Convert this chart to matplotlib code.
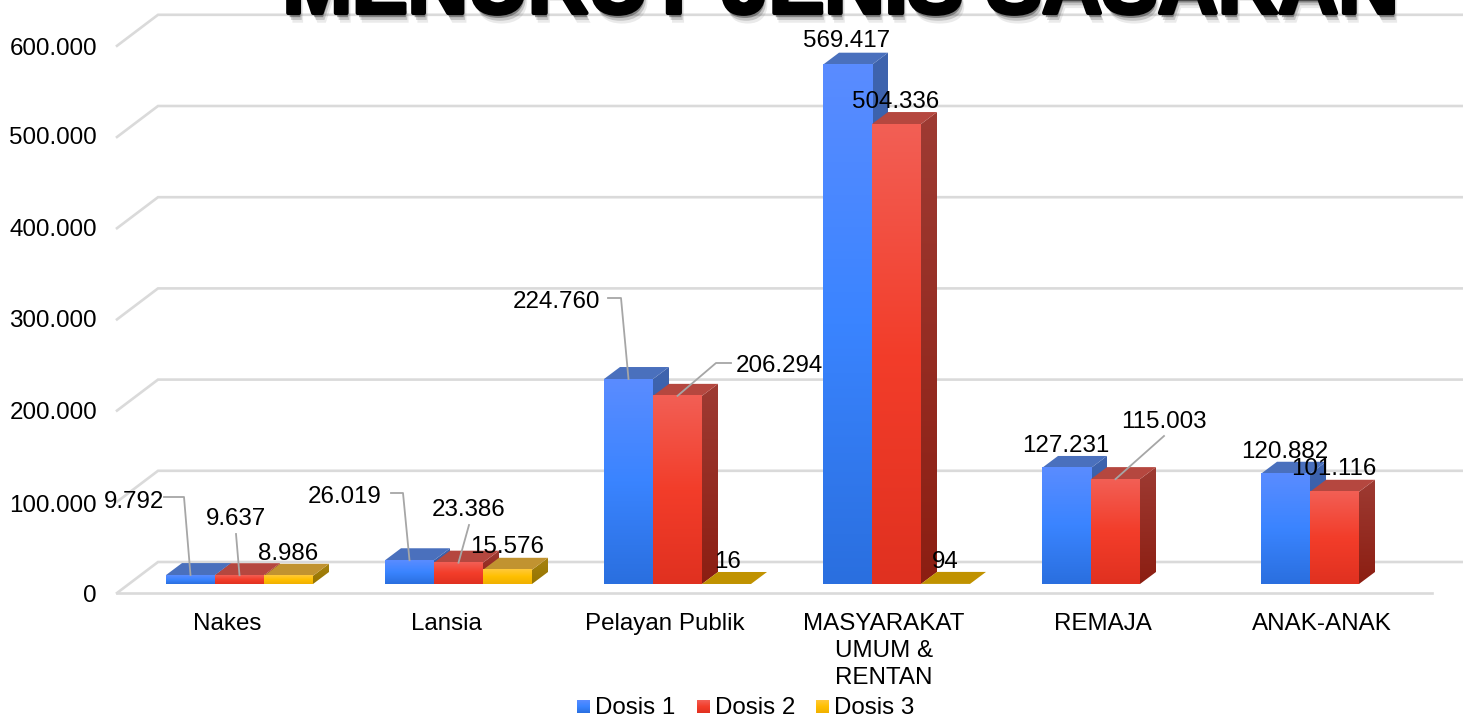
import numpy as np
import matplotlib
matplotlib.use('Agg')
import matplotlib.pyplot as plt
import matplotlib.patheffects as pe
from matplotlib.colors import LinearSegmentedColormap
from matplotlib.patches import Polygon

plt.rcParams['font.family'] = ['Liberation Sans', 'DejaVu Sans']

# data
categories = ['Nakes', 'Lansia', 'Pelayan Publik', 'MASYARAKAT\nUMUM &\nRENTAN', 'REMAJA', 'ANAK-ANAK']
dosis_1 = [9792, 26019, 224760, 569417, 127231, 120882]
dosis_2 = [9637, 23386, 206294, 504336, 115003, 101116]
dosis_3 = [8986, 15576, 16, 94, None, None]
series_names = ['Dosis 1', 'Dosis 2', 'Dosis 3']
y_ticks = [0, 100000, 200000, 300000, 400000, 500000, 600000]
y_tick_labels = ['0', '100.000', '200.000', '300.000', '400.000', '500.000', '600.000']
title = 'MENURUT JENIS SASARAN'

# warna: depan (atas, tengah, bawah), samping (atas, bawah), atas
front_colors = [['#5A8CFF', '#3A84FF', '#2A6FDF'],
                ['#F25F55', '#F33D2A', '#E03120'],
                ['#FFC93A', '#FFC000', '#F0B000']]
side_colors = [['#3F64AE', '#2A56A6'], ['#9E3B33', '#8C1E12'], ['#A88310', '#957400']]
top_colors = ['#4A70BD', '#B5473F', '#C19330']
flat_color = '#C09200'

W, H = 1463, 717
PX_PER_CAT = 219.0
PX_PER_UNIT = 0.000912
X0 = 239.5
Y0 = 584.0


# pixel gambar ke koordinat data
def xd(px):
    return (px - X0) / PX_PER_CAT


def yd(py):
    return (Y0 - py) / PX_PER_UNIT


fig = plt.figure(figsize=(W / 100, H / 100), dpi=100, facecolor='white')
ax = fig.add_axes([0, 0, 1, 1])
ax.set_xlim(xd(0), xd(W))
ax.set_ylim(yd(H), yd(0))
ax.axis('off')

bar_w = 49 / PX_PER_CAT
bar_dx = 16 / PX_PER_CAT
bar_dy = 12 / PX_PER_UNIT
font = 17.4
grid = '#DADADA'

# grid dinding + lantai
front_shift = yd(593)  # lantai depan di bawah dasar batang
for v in y_ticks:
    yb = v + yd(562)
    yf = v + front_shift
    ax.plot([xd(117), xd(158), xd(W + 5)], [yf, yb, yb], color=grid, lw=1.9, zorder=1,
            solid_joinstyle='miter')
ax.plot([xd(117), xd(1432)], [front_shift, front_shift], color=grid, lw=1.9, zorder=1)

# judul terpotong di tepi atas
ax.text(xd(841), yd(13), title, ha='center', va='baseline', fontsize=60, fontweight='bold',
        color='black', zorder=2,
        path_effects=[pe.withSimplePatchShadow(offset=(3, -7), shadow_rgbFace='#555555', alpha=0.12),
                      pe.withSimplePatchShadow(offset=(2, -5), shadow_rgbFace='#555555', alpha=0.25),
                      pe.withSimplePatchShadow(offset=(1, -3), shadow_rgbFace='#444444', alpha=0.5),
                      pe.withStroke(linewidth=3, foreground='black')])


def gradient(colors):
    return LinearSegmentedColormap.from_list('g', colors)


grad = np.linspace(0, 1, 256).reshape(-1, 1)
z = 3
all_series = [dosis_1, dosis_2, dosis_3]
for c in range(len(categories)):
    for s, vals in enumerate(all_series):
        v = vals[c]
        if v is None:
            continue
        x0 = c - 1.5 * bar_w + s * bar_w
        x1 = x0 + bar_w
        flat = v < 1000
        # sisi kanan
        if not flat:
            im = ax.imshow(grad, extent=(x1, x1 + bar_dx, 0, v + bar_dy), origin='upper', aspect='auto',
                           cmap=gradient(side_colors[s]), zorder=z, interpolation='bilinear')
            side = Polygon([(x1, 0), (x1 + bar_dx, bar_dy), (x1 + bar_dx, v + bar_dy), (x1, v)],
                           closed=True, transform=ax.transData, fc='none', ec='none')
            ax.add_patch(side)
            im.set_clip_path(side)
        z += 1
        # sisi atas
        ax.add_patch(Polygon([(x0, v), (x1, v), (x1 + bar_dx, v + bar_dy), (x0 + bar_dx, v + bar_dy)],
                             closed=True, fc=flat_color if flat else top_colors[s], ec='none', zorder=z))
        z += 1
        # sisi depan
        if not flat:
            ax.imshow(grad, extent=(x0, x1, 0, v), origin='upper', aspect='auto',
                      cmap=gradient(front_colors[s]), zorder=z, interpolation='bilinear')
        z += 1

ax.set_xlim(xd(0), xd(W))
ax.set_ylim(yd(H), yd(0))

# label sumbu y
tick_py = [596, 506, 413, 321, 230, 138, 49]
for lab, py in zip(y_tick_labels, tick_py):
    ax.text(xd(97), yd(py), lab, ha='right', va='center', fontsize=font, color='black', zorder=200)

# label kategori
for i, cat in enumerate(categories):
    ax.text(i + xd(227), yd(613), cat, ha='center', va='top', fontsize=font, color='black',
            linespacing=1.28, zorder=200)

# label nilai: posisi tengah teks (pixel)
label_pos = [[(134, 502), (236, 519), (288, 554)],
             [(345, 497), (469, 510), (507, 547)],
             [(556, 302), (779, 366), (727, 562)],
             [(847, 41), (896, 102), (945, 562)],
             [(1066, 446), (1164, 422), None],
             [(1285, 452), (1334, 469), None]]
for c in range(len(categories)):
    for s, vals in enumerate(all_series):
        if vals[c] is None:
            continue
        txt = f'{vals[c]:,}'.replace(',', '.')
        px, py = label_pos[c][s]
        ax.text(xd(px), yd(py), txt, ha='center', va='center', fontsize=font, color='black', zorder=210)

# garis penunjuk: (kategori, seri, titik siku)
leaders = [(0, 0, [(164, 497), (184, 497)]),
           (0, 1, [(236, 534)]),
           (1, 0, [(391, 493), (403, 493)]),
           (1, 1, [(469, 525)]),
           (2, 0, [(608, 298), (621, 298)]),
           (2, 1, [(731, 363), (716, 363)]),
           (4, 1, [(1164, 436)])]
for c, s, pts in leaders:
    xs = [xd(p[0]) for p in pts] + [c - 1.5 * bar_w + (s + 0.5) * bar_w]
    ys = [yd(p[1]) for p in pts] + [all_series[s][c]]
    ax.plot(xs, ys, color='#A6A6A6', lw=1.3, zorder=205)

# legenda
legend_px = [577, 697, 816]
for s, name in enumerate(series_names):
    lx = legend_px[s]
    ax.imshow(grad, extent=(xd(lx), xd(lx + 13), yd(713), yd(700)), origin='upper', aspect='auto',
              cmap=gradient(front_colors[s]), zorder=200, interpolation='bilinear')
    ax.text(xd(lx + 18), yd(708), name, ha='left', va='center', fontsize=font, color='black', zorder=200)

ax.set_xlim(xd(0), xd(W))
ax.set_ylim(yd(H), yd(0))
fig.savefig('out.png', dpi=100, facecolor='white')
